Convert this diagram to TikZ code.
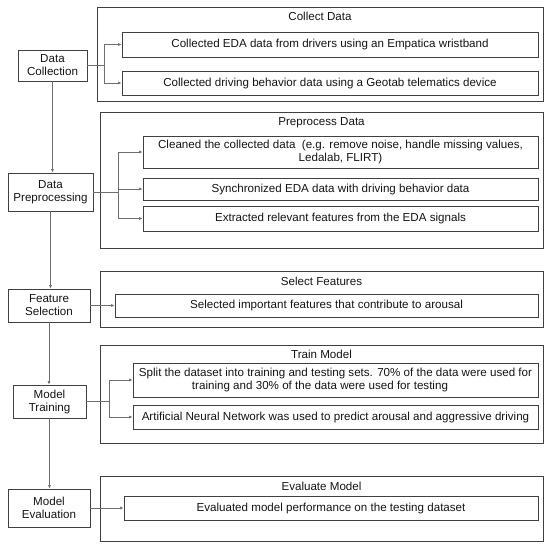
\documentclass[tikz,border=0pt]{standalone}
\usepackage{fontspec}
\setmainfont{Liberation Sans}
\usetikzlibrary{arrows.meta,positioning,calc}
\definecolor{boxline}{HTML}{404040}
\definecolor{wire}{HTML}{6E6E6E}
\definecolor{ink}{HTML}{141414}
\tikzset{
    x=1pt,y=-1pt,
    font=\fontsize{11.6}{13}\selectfont,
    phase/.style ={rectangle, draw=boxline, line width=0.9pt, text=ink, align=center, inner sep=0pt},
    group/.style ={rectangle, draw=boxline, line width=0.9pt, inner sep=0pt},
    task/.style  ={rectangle, draw=boxline, line width=0.9pt, text=ink, align=center, inner sep=0pt},
    heading/.style={text=ink, inner sep=0pt},
    link/.style  ={draw=wire, line width=0.6pt},
    arrow/.style ={link, -{Latex[length=3.5pt,width=3pt]}}
}

\begin{document}
\begin{tikzpicture}
      \useasboundingbox (0,0) rectangle (550,549);

      % steps on the left
      \node[phase, minimum width=69pt, minimum height=31pt] (collect) at (52.5,65.5) {Data\\Collection};
      \node[phase, minimum width=85pt, minimum height=38pt] (prep) at (50.5,192) {Data\\Preprocessing};
      \node[phase, minimum width=82pt, minimum height=33pt] (select) at (49,305.5) {Feature\\Selection};
      \node[phase, minimum width=73pt, minimum height=33pt] (train) at (49.5,401.5) {Model\\Training};
      \node[phase, minimum width=82pt, minimum height=38pt] (evaluate) at (49,508) {Model\\Evaluation};

      % groups on the right
      \node[group, minimum width=446pt, minimum height=94pt] (gcollect) at (320,54) {};
      \node[group, minimum width=443pt, minimum height=136pt] (gprep) at (321.5,180) {};
      \node[group, minimum width=443pt, minimum height=56pt] (gselect) at (321.5,299) {};
      \node[group, minimum width=443pt, minimum height=98pt] (gtrain) at (321.5,394) {};
      \node[group, minimum width=443pt, minimum height=65pt] (gevaluate) at (321.5,508.5) {};

      \node[heading] (hcollect) at ([yshift=-9.5pt]gcollect.north) {Collect Data};
      \node[heading] (hprep) at ([yshift=-11pt]gprep.north) {Preprocess Data};
      \node[heading] (hselect) at ([yshift=-11pt]gselect.north) {Select Features};
      \node[heading] (htrain) at ([yshift=-9.5pt]gtrain.north) {Train Model};
      \node[heading] (hevaluate) at ([yshift=-11pt]gevaluate.north) {Evaluate Model};

      % tasks
      \node[task, minimum width=416pt, minimum height=25pt] (c1) at (330,44.5) {Collected EDA data from drivers using an Empatica wristband};
      \node[task, minimum width=416pt, minimum height=24pt] (c2) at (330,83) {Collected driving behavior data using a Geotab telematics device};
      \node[task, minimum width=395pt, minimum height=32pt] (p1) at (340.5,152) {Cleaned the collected data\ \ (e.g. remove noise, handle missing values,\\Ledalab, FLIRT)};
      \node[task, minimum width=395pt, minimum height=22pt] (p2) at (340.5,189) {Synchronized EDA data with driving behavior data};
      \node[task, minimum width=395pt, minimum height=25pt] (p3) at (340.5,218.5) {Extracted relevant features from the EDA signals};
      \node[task, minimum width=423pt, minimum height=23pt] (f1) at (326.5,305.5) {Selected important features that contribute to arousal};
      \node[task, minimum width=405pt, minimum height=34pt] (m1) at (335.5,380) {Split the dataset into training and testing sets. 70\% of the data were used for\\training and 30\% of the data were used for testing\hspace*{31pt}};
      \node[task, minimum width=405pt, minimum height=24pt] (m2) at (335.5,417) {Artificial Neural Network was used to predict arousal and aggressive driving};
      \node[task, minimum width=414pt, minimum height=24pt] (e1) at (331,508) {Evaluated model performance on the testing dataset};

      % flow down the left
      \draw[arrow] (collect.south) -- (collect.south |- prep.north);
      \draw[arrow] (prep.south) -- (prep.south |- select.north);
      \draw[arrow] (select.south) -- (select.south |- train.north);
      \draw[arrow] (train.south) -- (train.south |- evaluate.north);

      % branches to the tasks
      \draw[link] (collect.east) -- ++(17,0) coordinate (jcollect);
      \draw[arrow] (jcollect) |- (c1.west);
      \draw[arrow] (jcollect) |- (c2.west);

      \draw[link] (prep.east) -- ++(25,0) coordinate (jprep);
      \draw[arrow] (jprep) |- (p1.west);
      \draw[arrow] (jprep) |- (p2.west);
      \draw[arrow] (jprep) |- (p3.west);

      \draw[arrow] (select.east) -- (f1.west);

      \draw[link] (train.east) -- ++(23,0) coordinate (jtrain);
      \draw[arrow] (jtrain) |- (m1.west);
      \draw[arrow] (jtrain) |- (m2.west);

      \draw[arrow] (evaluate.east) -- (e1.west);
\end{tikzpicture}
\end{document}
